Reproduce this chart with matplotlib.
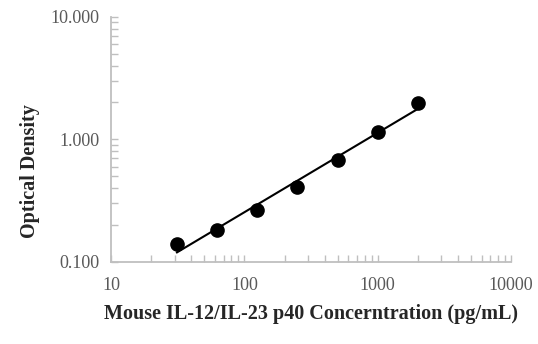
import numpy as np
import matplotlib
matplotlib.use("Agg")
import matplotlib.pyplot as plt
from matplotlib.ticker import FixedLocator, FixedFormatter, LogLocator, NullFormatter

# Standard curve: concentration (pg/mL) vs optical density
concentration = [31.25, 62.5, 125, 250, 500, 1000, 2000]
optical_density = [0.140, 0.184, 0.266, 0.412, 0.679, 1.156, 1.99]

x_ticks = [10, 100, 1000, 10000]
x_tick_labels = ["10", "100", "1000", "10000"]
y_ticks = [0.1, 1, 10]
y_tick_labels = ["0.100", "1.000", "10.000"]

plt.rcParams['font.family'] = ['Liberation Serif', 'DejaVu Serif']

fig = plt.figure(figsize=(5.38, 3.44), dpi=100)
ax = fig.add_axes([0.2063, 0.2384, 0.7437, 0.713])

# power-law trend line (straight line in log-log space)
lx = np.log10(concentration)
ly = np.log10(optical_density)
slope, intercept = np.polyfit(lx, ly, 1)
fit_x = np.array([concentration[0], concentration[-1]])
fit_y = 10 ** (intercept + slope * np.log10(fit_x))
ax.plot(fit_x, fit_y, color='black', lw=1.5, zorder=2)

ax.plot(concentration, optical_density, 'o', color='black', ms=9.5, zorder=3)

ax.set_xscale('log')
ax.set_yscale('log')
ax.set_xlim(10, 10000)
ax.set_ylim(0.1, 10)

ax.xaxis.set_major_locator(FixedLocator(x_ticks))
ax.xaxis.set_major_formatter(FixedFormatter(x_tick_labels))
ax.yaxis.set_major_locator(FixedLocator(y_ticks))
ax.yaxis.set_major_formatter(FixedFormatter(y_tick_labels))
for axis in (ax.xaxis, ax.yaxis):
    axis.set_minor_locator(LogLocator(base=10, subs=np.arange(2, 10)))
    axis.set_minor_formatter(NullFormatter())

grey = '#bfbfbf'
for side in ('top', 'right'):
    ax.spines[side].set_visible(False)
for side in ('left', 'bottom'):
    ax.spines[side].set_color(grey)
    ax.spines[side].set_linewidth(1.3)

ax.tick_params(which='both', direction='in', color=grey, width=1, labelcolor='#595959',
               labelsize=13, length=5)
ax.tick_params(axis='x', pad=11)
ax.tick_params(axis='y', pad=8)

ax.set_xlabel('Mouse IL-12/IL-23 p40 Concerntration (pg/mL)', fontsize=14.5,
              fontweight='bold', color='#262626')
ax.set_ylabel('Optical Density', fontsize=14.5, fontweight='bold', color='#262626')
ax.xaxis.set_label_coords(0.5, -0.17)
ax.yaxis.set_label_coords(-0.178, 0.37)

fig.savefig('out.png', dpi=100)
